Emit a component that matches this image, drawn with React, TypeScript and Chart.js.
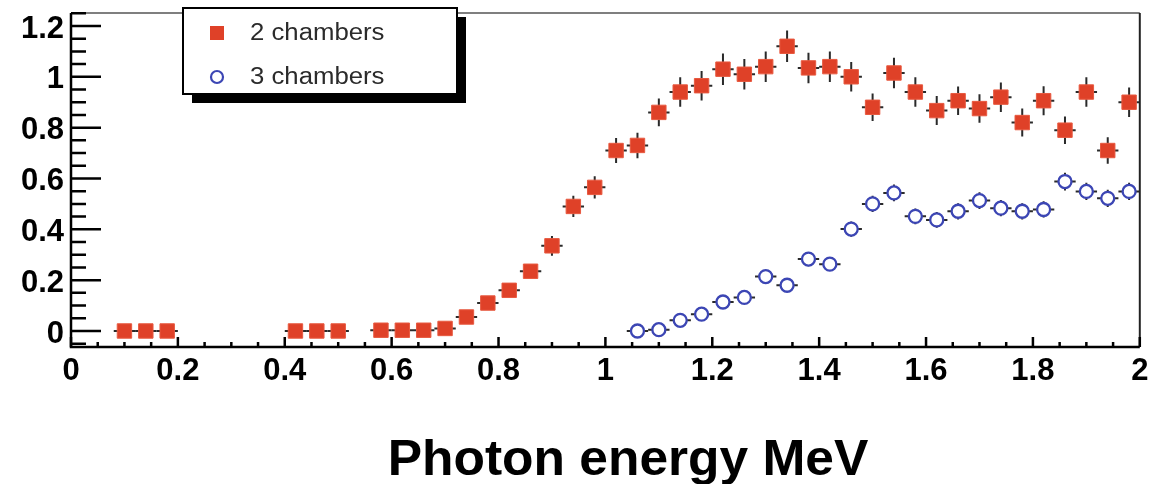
import React, { useEffect, useRef } from "react";
import { Chart, registerables } from "chart.js";

Chart.register(...registerables);

// ---- data ----
const energy2 = [0.10, 0.14, 0.18, 0.42, 0.46, 0.50, 0.58, 0.62, 0.66, 0.70, 0.74, 0.78, 0.82, 0.86, 0.90, 0.94, 0.98, 1.02, 1.06, 1.10, 1.14, 1.18, 1.22, 1.26, 1.30, 1.34, 1.38, 1.42, 1.46, 1.50, 1.54, 1.58, 1.62, 1.66, 1.70, 1.74, 1.78, 1.82, 1.86, 1.90, 1.94, 1.98];
const ratio2 = [0, 0, 0, 0, 0, 0, 0.003, 0.003, 0.003, 0.01, 0.055, 0.11, 0.16, 0.235, 0.335, 0.49, 0.565, 0.71, 0.73, 0.86, 0.94, 0.965, 1.03, 1.01, 1.04, 1.12, 1.035, 1.04, 1.0, 0.88, 1.015, 0.94, 0.867, 0.906, 0.875, 0.92, 0.82, 0.906, 0.79, 0.94, 0.71, 0.9];
const err2 = [0, 0, 0, 0, 0, 0, 0.003, 0.003, 0.003, 0.005, 0.01, 0.012, 0.015, 0.02, 0.039, 0.042, 0.044, 0.049, 0.05, 0.055, 0.058, 0.058, 0.062, 0.06, 0.06, 0.062, 0.06, 0.06, 0.058, 0.054, 0.06, 0.058, 0.057, 0.056, 0.056, 0.058, 0.055, 0.057, 0.054, 0.058, 0.052, 0.058];

const energy3 = [1.06, 1.10, 1.14, 1.18, 1.22, 1.26, 1.30, 1.34, 1.38, 1.42, 1.46, 1.50, 1.54, 1.58, 1.62, 1.66, 1.70, 1.74, 1.78, 1.82, 1.86, 1.90, 1.94, 1.98];
const ratio3 = [0.0, 0.005, 0.042, 0.066, 0.114, 0.132, 0.214, 0.18, 0.283, 0.263, 0.401, 0.5, 0.543, 0.451, 0.437, 0.471, 0.513, 0.483, 0.471, 0.478, 0.588, 0.549, 0.522, 0.549];
const err3 = [0.01, 0.012, 0.015, 0.018, 0.02, 0.02, 0.025, 0.024, 0.028, 0.027, 0.03, 0.032, 0.033, 0.031, 0.031, 0.032, 0.033, 0.032, 0.032, 0.032, 0.035, 0.034, 0.034, 0.034];

const binHalfWidth = 0.02;

const seriesLabels = ["2 chambers", "3 chambers"];

const xTickValues = [0, 0.2, 0.4, 0.6, 0.8, 1, 1.2, 1.4, 1.6, 1.8, 2];
const xTickLabels = ["0", "0.2", "0.4", "0.6", "0.8", "1", "1.2", "1.4", "1.6", "1.8", "2"];
const yTickValues = [0, 0.2, 0.4, 0.6, 0.8, 1, 1.2];
const yTickLabels = ["0", "0.2", "0.4", "0.6", "0.8", "1", "1.2"];

const xTitle = "Photon energy MeV";

const RED = "#df4128";
const BLUE = "#3c46b4";
const FONT = "'Liberation Sans', Arial, sans-serif";

const errorBarPlugin = {
  id: "errorBars",
  beforeDatasetsDraw(chart: any) {
    const { ctx, scales } = chart;
    const xs = scales.x;
    const ys = scales.y;
    const errs = [err2, err3];
    ctx.save();
    ctx.strokeStyle = "#2a2a2a";
    ctx.lineWidth = 2;
    chart.data.datasets.forEach((ds: any, di: number) => {
      ds.data.forEach((p: any, i: number) => {
        const e = errs[di][i] || 0;
        const px = xs.getPixelForValue(p.x);
        const py = ys.getPixelForValue(p.y);
        ctx.beginPath();
        ctx.moveTo(xs.getPixelForValue(p.x - binHalfWidth), py);
        ctx.lineTo(xs.getPixelForValue(p.x + binHalfWidth), py);
        if (e > 0) {
          ctx.moveTo(px, ys.getPixelForValue(p.y - e));
          ctx.lineTo(px, ys.getPixelForValue(p.y + e));
        }
        ctx.stroke();
      });
    });
    ctx.restore();
  },
};

const framePlugin = {
  id: "rootFrame",
  afterDraw(chart: any) {
    const { ctx, chartArea: a, scales } = chart;
    const xs = scales.x;
    const ys = scales.y;
    ctx.save();
    // frame top/right
    ctx.strokeStyle = "#555";
    ctx.lineWidth = 1.5;
    ctx.beginPath();
    ctx.moveTo(a.left, a.top);
    ctx.lineTo(a.right, a.top);
    ctx.stroke();
    ctx.strokeStyle = "#222";
    ctx.lineWidth = 2;
    ctx.beginPath();
    ctx.moveTo(a.right, a.top);
    ctx.lineTo(a.right, a.bottom);
    ctx.stroke();
    // axes
    ctx.strokeStyle = "#000";
    ctx.lineWidth = 2.5;
    ctx.beginPath();
    ctx.moveTo(a.left, a.top);
    ctx.lineTo(a.left, a.bottom);
    ctx.lineTo(a.right, a.bottom);
    ctx.stroke();
    // y ticks (inside)
    ctx.beginPath();
    for (let k = -4; k <= 40; k++) {
      const v = k * 0.05;
      if (v < ys.min - 1e-9 || v > ys.max + 1e-9) continue;
      const py = ys.getPixelForValue(v);
      const major = k % 4 === 0;
      ctx.moveTo(a.left, py);
      ctx.lineTo(a.left + (major ? 30 : 15), py);
    }
    // x ticks (inside)
    for (let k = 0; k <= 40; k++) {
      const v = k * 0.05;
      if (v < xs.min - 1e-9 || v > xs.max + 1e-9) continue;
      const px = xs.getPixelForValue(v);
      const major = k % 4 === 0;
      ctx.moveTo(px, a.bottom);
      ctx.lineTo(px, a.bottom - (major ? 10 : 5));
    }
    ctx.stroke();

    // axis title
    ctx.fillStyle = "#000";
    ctx.font = `bold 50px ${FONT}`;
    ctx.textAlign = "center";
    ctx.textBaseline = "alphabetic";
    ctx.save();
    ctx.translate(628, 475);
    ctx.scale(1.03, 1);
    ctx.fillText(xTitle, 0, 0);
    ctx.restore();

    // legend
    const bx = 183, by = 8, bw = 274, bh = 86;
    ctx.fillStyle = "#000";
    ctx.fillRect(bx + 9, by + 9, bw, bh);
    ctx.fillStyle = "#fff";
    ctx.fillRect(bx, by, bw, bh);
    ctx.strokeStyle = "#000";
    ctx.lineWidth = 2;
    ctx.strokeRect(bx, by, bw, bh);

    const rows = [33, 77];
    const ds = chart.data.datasets;
    ctx.fillStyle = ds[0].backgroundColor;
    ctx.fillRect(217 - 7, rows[0] - 7, 14, 14);
    ctx.strokeStyle = ds[1].borderColor;
    ctx.lineWidth = 2.2;
    ctx.beginPath();
    ctx.arc(217, rows[1], 6, 0, Math.PI * 2);
    ctx.stroke();

    ctx.fillStyle = "#2b2b2b";
    ctx.font = `22px ${FONT}`;
    ctx.textBaseline = "middle";
    ctx.textAlign = "left";
    ds.forEach((d: any, i: number) => {
      ctx.save();
      ctx.translate(250, rows[i] + 1);
      ctx.scale(1.17, 1.05);
      ctx.fillText(d.label, 0, 0);
      ctx.restore();
    });
    ctx.restore();
  },
};

export default function App() {
  const ref = useRef<HTMLCanvasElement | null>(null);

  useEffect(() => {
    if (!ref.current) return;
    const chart = new Chart(ref.current, {
      type: "scatter",
      data: {
        datasets: [
          {
            label: seriesLabels[0],
            data: energy2.map((x, i) => ({ x, y: ratio2[i] })),
            pointStyle: "rect",
            pointRadius: 10.2,
            backgroundColor: RED,
            borderColor: "#e85a40",
            borderWidth: 1,
            showLine: false,
          },
          {
            label: seriesLabels[1],
            data: energy3.map((x, i) => ({ x, y: ratio3[i] })),
            pointStyle: "circle",
            pointRadius: 6.5,
            backgroundColor: "#ffffff",
            borderColor: BLUE,
            borderWidth: 2.3,
            showLine: false,
          },
        ],
      },
      options: {
        responsive: false,
        animation: false,
        devicePixelRatio: 1,
        events: [],
        layout: { padding: { left: 0, top: 13, right: 5, bottom: 0 } },
        plugins: {
          legend: { display: false },
          tooltip: { enabled: false },
          title: { display: false },
        },
        scales: {
          x: {
            type: "linear",
            min: 0,
            max: 2,
            grid: { display: false, drawTicks: false },
            border: { display: false },
            afterBuildTicks: (scale: any) => {
              scale.ticks = xTickValues.map((v) => ({ value: v }));
            },
            afterFit: (scale: any) => {
              scale.height = 137;
              scale.paddingLeft = 0;
              scale.paddingRight = 0;
            },
            ticks: {
              autoSkip: false,
              maxRotation: 0,
              minRotation: 0,
              padding: 6,
              color: "#000",
              font: { family: FONT, size: 31, weight: "bold" },
              callback: (_v: any, i: number) => xTickLabels[i],
            },
            title: { display: false, text: xTitle },
          },
          y: {
            type: "linear",
            min: -0.063,
            max: 1.251,
            grid: { display: false, drawTicks: false },
            border: { display: false },
            afterBuildTicks: (scale: any) => {
              scale.ticks = yTickValues.map((v) => ({ value: v }));
            },
            afterFit: (scale: any) => {
              scale.width = 71;
              scale.paddingTop = 0;
              scale.paddingBottom = 0;
            },
            ticks: {
              autoSkip: false,
              padding: 7,
              labelOffset: 3,
              color: "#000",
              font: { family: FONT, size: 31, weight: "bold" },
              callback: (_v: any, i: number) => yTickLabels[i],
            },
          },
        },
      },
      plugins: [errorBarPlugin, framePlugin],
    } as any);
    return () => chart.destroy();
  }, []);

  return (
    <div style={{ position: "fixed", left: 0, top: 0, width: 1151, height: 484, background: "#fff" }}>
      <canvas ref={ref} width={1151} height={484} style={{ display: "block", width: 1151, height: 484 }} />
    </div>
  );
}
